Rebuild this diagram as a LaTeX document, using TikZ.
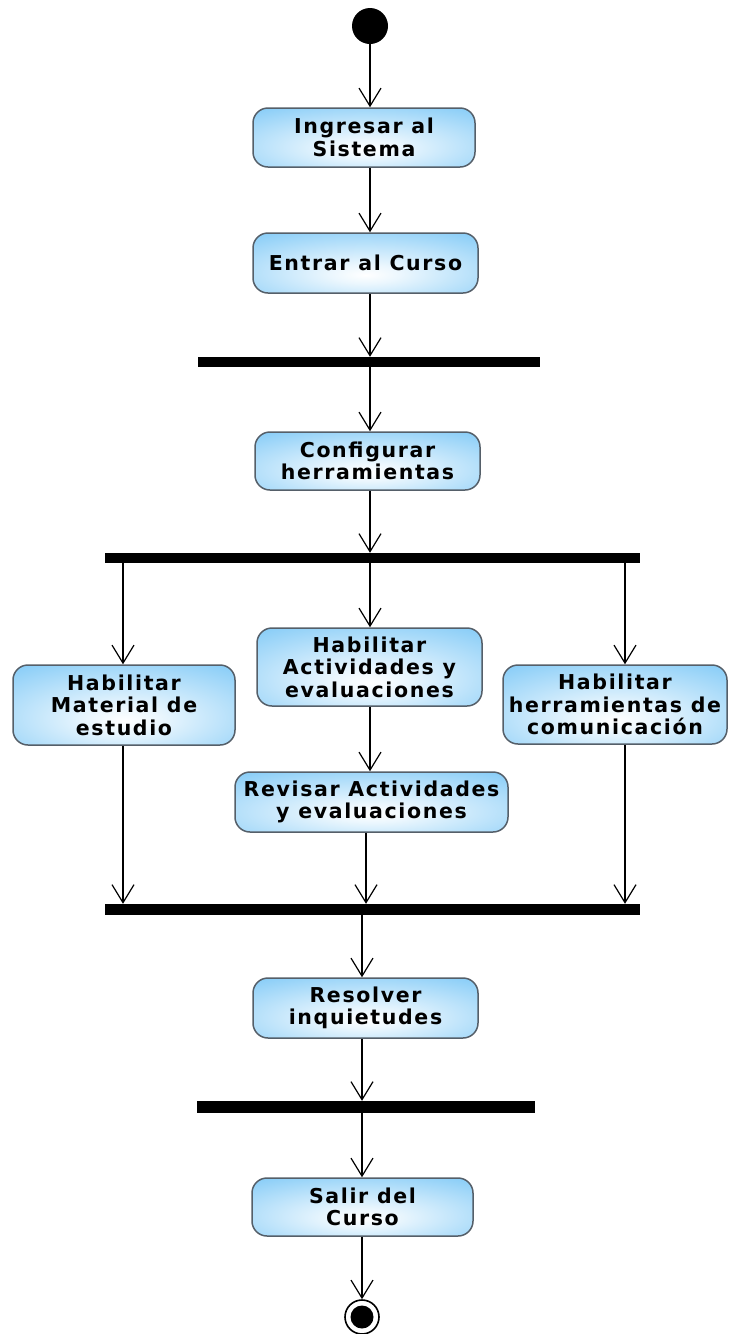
\documentclass[tikz,border=0pt]{standalone}
\usepackage{fontspec}
\setmainfont{DejaVu Sans}
\usetikzlibrary{arrows.meta}
\definecolor{actedge}{RGB}{85,95,105}
\definecolor{actfill}{RGB}{120,198,246}
% soft glow for the activity boxes: white near the middle, blue at the rim
\pgfdeclareradialshading{actglow}{\pgfpoint{0bp}{-10bp}}{%
  color(0bp)=(white); color(8bp)=(white!85!actfill);
  color(44bp)=(actfill); color(100bp)=(actfill)}
\begin{document}
\begin{tikzpicture}[x=1pt,y=-1pt,
  act/.style={draw=actedge, line width=1.5pt, rounded corners=15pt,
    shading=actglow, align=center,
    font=\bfseries\fontsize{20.5}{22.5}\selectfont\addfontfeature{LetterSpace=8},
    inner sep=0pt},
  bar/.style={fill=black, draw=none, inner sep=0pt, minimum height=10pt},
  flow/.style={line width=1.2pt,
    -{Straight Barb[length=18pt,width=22pt,line width=1.2pt]}}
]
\useasboundingbox (0,0) rectangle (730,1334);

% start and end states
\node[circle, fill=black, minimum size=36pt, inner sep=0pt] (init) at (370,26) {};
\node[circle, draw=black, line width=1.6pt, fill=white, minimum size=34pt, inner sep=0pt] (final) at (362,1317) {};
\fill[black] (final.center) circle (11.5pt);

% column guides
\coordinate (colA) at (370,0);
\coordinate (colB) at (366,0);
\coordinate (colC) at (362,0);
\coordinate (colL) at (123,0);
\coordinate (colR) at (625,0);

% activities
\node[act, minimum width=222pt, minimum height=59pt] (ingresar) at (364,137.5) {Ingresar al\\Sistema};
\node[act, minimum width=225pt, minimum height=60pt] (entrar) at (365.5,263) {Entrar al Curso};
\node[act, minimum width=225pt, minimum height=58pt] (config) at (367.5,461) {Configurar\\herramientas};
\node[act, minimum width=222pt, minimum height=80pt] (material) at (124,705) {Habilitar\\Material de\\estudio};
\node[act, minimum width=225pt, minimum height=78pt] (activ) at (369.5,667) {Habilitar\\Actividades y\\evaluaciones};
\node[act, minimum width=224pt, minimum height=79pt] (comun) at (615,704.5) {Habilitar\\herramientas de\\comunicación};
\node[act, minimum width=273pt, minimum height=60pt] (revisar) at (371.5,802) {Revisar Actividades\\y evaluaciones};
\node[act, minimum width=225pt, minimum height=60pt] (resolver) at (365.5,1008) {Resolver\\inquietudes};
\node[act, minimum width=221pt, minimum height=58pt] (salir) at (362.5,1207) {Salir del\\Curso};

% fork / join bars
\node[bar, minimum width=342pt] (fork1) at (369,362) {};
\node[bar, minimum width=535pt] (fork2) at (372.5,558) {};
\node[bar, minimum width=535pt, minimum height=11pt] (join1) at (372.5,909.5) {};
\node[bar, minimum width=338pt, minimum height=12pt] (join2) at (366,1107) {};

% control flow
\draw[flow] (init) -- (init |- ingresar.north);
\draw[flow] (ingresar.south -| colA) -- (entrar.north -| colA);
\draw[flow] (entrar.south -| colA) -- (fork1.north -| colA);
\draw[flow] (fork1.south -| colA) -- (config.north -| colA);
\draw[flow] (config.south -| colA) -- (fork2.north -| colA);
\draw[flow] (fork2.south -| colL) -- (material.north -| colL);
\draw[flow] (fork2.south -| colA) -- (activ.north -| colA);
\draw[flow] (fork2.south -| colR) -- (comun.north -| colR);
\draw[flow] (activ.south -| colA) -- (revisar.north -| colA);
\draw[flow] (material.south -| colL) -- (join1.north -| colL);
\draw[flow] (revisar.south -| colB) -- (join1.north -| colB);
\draw[flow] (comun.south -| colR) -- (join1.north -| colR);
\draw[flow] (join1.south -| colC) -- (resolver.north -| colC);
\draw[flow] (resolver.south -| colC) -- (join2.north -| colC);
\draw[flow] (join2.south -| colC) -- (salir.north -| colC);
\draw[flow] (salir.south -| colC) -- (final.north);
\end{tikzpicture}
\end{document}
